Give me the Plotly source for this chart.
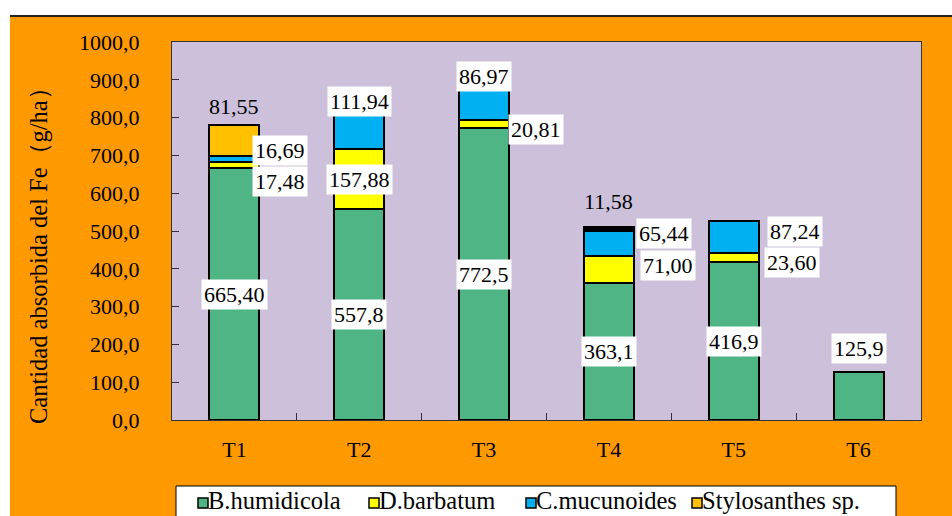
import plotly.graph_objects as go

categories = ["T1", "T2", "T3", "T4", "T5", "T6"]
b_humidicola = [665.40, 557.8, 772.5, 363.1, 416.9, 125.9]
b_decimals = [2, 1, 1, 1, 1, 1]
d_barbatum = [17.48, 157.88, 20.81, 71.00, 23.60, None]
c_mucunoides = [16.69, 111.94, 86.97, 65.44, 87.24, None]
stylosanthes = [81.55, None, None, None, None, None]
otro = [None, None, None, 11.58, None, None]

FONT = "Liberation Serif, Times New Roman, serif"
LINE = dict(color="black", width=2)

L, R, T, B = 172, 921, 42, 420


def px(x):
    return (x - L) / (R - L)


def py(y):
    return (B - y) / (B - T)


fig = go.Figure()
series = [
    ("B.humidicola", b_humidicola, "#4FB584"),
    ("D.barbatum", d_barbatum, "#FFFF00"),
    ("C.mucunoides", c_mucunoides, "#00B0F0"),
    ("Stylosanthes sp.", stylosanthes, "#FFC000"),
    ("otro", otro, "#000000"),
]
for name, vals, col in series:
    fig.add_trace(go.Bar(x=categories, y=vals, name=name, showlegend=False,
                         marker=dict(color=col, line=LINE), width=0.4))


def fmt(v, d=2):
    return f"{v:.{d}f}".replace(".", ",")


def z(v):
    return v if v is not None else 0


annos = []


def lab(cat, y, text, xs=0, ys=0, box=True):
    annos.append(dict(x=cat, y=y, xref="x", yref="y", text=text, showarrow=False,
                      xshift=xs, yshift=ys, xanchor="center", yanchor="middle",
                      font=dict(family=FONT, size=22, color="black"),
                      bgcolor="white" if box else "rgba(0,0,0,0)", borderpad=2))


tops = []
for i, c in enumerate(categories):
    b = b_humidicola[i]
    d = z(d_barbatum[i])
    cm = z(c_mucunoides[i])
    s = z(stylosanthes[i]) + z(otro[i])
    tops.append((b, d, cm, s, b + d + cm + s))

for i, c in enumerate(categories):
    b, d, cm, s, tot = tops[i]
    txt = fmt(b_humidicola[i], b_decimals[i])
    if c == "T6":
        lab(c, tot, txt, 0, 24)
    else:
        lab(c, b / 2, txt)

b, d, cm, s, tot = tops[0]
lab("T1", b + d / 2, fmt(d_barbatum[0]), 46, -16)
lab("T1", b + d + cm / 2, fmt(c_mucunoides[0]), 46, 8)
lab("T1", tot, fmt(stylosanthes[0]), 0, 18, box=False)
b, d, cm, s, tot = tops[1]
lab("T2", b + d / 2, fmt(d_barbatum[1]))
lab("T2", tot, fmt(c_mucunoides[1]), 0, 6)
b, d, cm, s, tot = tops[2]
lab("T3", b + d / 2, fmt(d_barbatum[2]), 52, -5)
lab("T3", tot, fmt(c_mucunoides[2]), 0, 11)
b, d, cm, s, tot = tops[3]
lab("T4", b + d / 2, fmt(d_barbatum[3]), 59, 4)
lab("T4", b + d + cm / 2, fmt(c_mucunoides[3]), 55, 10)
lab("T4", tot, fmt(otro[3]), 0, 25, box=False)
b, d, cm, s, tot = tops[4]
lab("T5", b + d / 2, fmt(d_barbatum[4]), 58, -5)
lab("T5", b + d + cm / 2, fmt(c_mucunoides[4]), 61, 6)

annos.append(dict(x=px(38), y=py(250), xref="paper", yref="paper", showarrow=False,
                  text="Cantidad absorbida del Fe（g/ha）", textangle=-90,
                  font=dict(family=FONT, size=24.5, color="black"),
                  xanchor="center", yanchor="middle"))

shapes = [
    dict(type="rect", xref="paper", yref="paper", x0=px(-5), x1=px(960), y0=py(16), y1=py(-5),
         fillcolor="white", line=dict(width=0), layer="below"),
    dict(type="rect", xref="paper", yref="paper", x0=px(-5), x1=px(10), y0=py(525), y1=py(-5),
         fillcolor="white", line=dict(width=0), layer="below"),
    dict(type="line", xref="paper", yref="paper", x0=px(10), x1=px(960), y0=py(16), y1=py(16),
         line=dict(color="#222222", width=2)),
    dict(type="rect", xref="paper", yref="paper", x0=px(176), x1=px(896), y0=py(525), y1=py(486),
         fillcolor="white", line=dict(color="black", width=1)),
]

leg_sq_x = [198, 369, 526, 692]
for (name, vals, col), sx in zip(series[:4], leg_sq_x):
    shapes.append(dict(type="rect", xref="paper", yref="paper",
                       x0=px(sx), x1=px(sx + 10), y0=py(508), y1=py(498),
                       fillcolor=col, line=dict(color="black", width=1.5)))
    annos.append(dict(x=px(sx + 9), y=py(501), xref="paper", yref="paper", showarrow=False,
                      text=name, xanchor="left", yanchor="middle", borderpad=0,
                      font=dict(family=FONT, size=24.5, color="black")))

fig.update_layout(
    width=952, height=516,
    margin=dict(l=L, r=952 - R, t=T, b=516 - B),
    paper_bgcolor="#FF9900",
    plot_bgcolor="#CCC0DA",
    barmode="stack",
    separators=",.",
    showlegend=False,
    font=dict(family=FONT, size=22, color="black"),
    annotations=annos,
    shapes=shapes,
)
fig.update_yaxes(range=[0, 1000], dtick=100, tickformat=".1f", ticks="inside", ticklen=7,
                 tickcolor="#333333", showline=True, linecolor="#333333", linewidth=1,
                 mirror=True, showgrid=False, zeroline=False, ticklabelstandoff=27,
                 tickfont=dict(family=FONT, size=22))
fig.update_xaxes(ticks="inside", tickson="boundaries", ticklen=7, tickcolor="#333333",
                 showline=True, linecolor="#333333", linewidth=1, mirror=True,
                 showgrid=False, ticklabelstandoff=10, tickfont=dict(family=FONT, size=22))

fig.write_html("out.html")
